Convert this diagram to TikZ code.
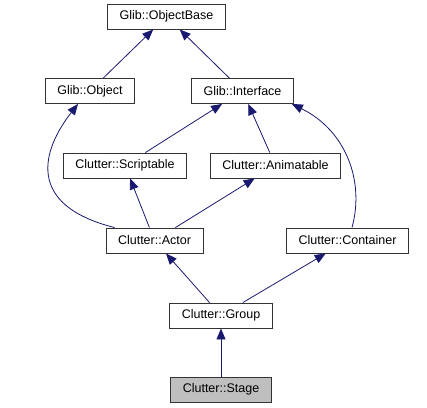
\documentclass[tikz,border=0pt]{standalone}
\usepackage{fontspec}
\setmainfont{Liberation Sans}
\usetikzlibrary{arrows.meta}
\definecolor{edgeblue}{RGB}{25,25,112}
\definecolor{stagegray}{RGB}{191,191,191}

\begin{document}
\begin{tikzpicture}[x=1pt,y=-1pt,
  cls/.style={draw=black!80,fill=white,line width=0.9pt,minimum height=25pt,
    inner xsep=12pt,inner ysep=0pt,font=\fontsize{12.5}{15}\selectfont},
  inh/.style={draw=edgeblue,line width=0.8pt,
    -{Triangle[length=11pt,width=9pt,fill=edgeblue]}}]
\useasboundingbox (0,0) rectangle (427,407);

\node[cls] (objbase) at (166.5,16.5) {Glib::ObjectBase};
\node[cls] (object) at (90,91) {Glib::Object};
\node[cls] (interface) at (242.5,91) {Glib::Interface};
\node[cls] (scriptable) at (125,165.5) {Clutter::Scriptable};
\node[cls] (animatable) at (275.5,165.5) {Clutter::Animatable};
\node[cls] (actor) at (154.5,240.5) {Clutter::Actor};
\node[cls] (container) at (347.5,240.5) {Clutter::Container};
\node[cls] (group) at (221,315.5) {Clutter::Group};
\node[cls,fill=stagegray] (stage) at (221,389.5) {Clutter::Stage};

\draw[inh] (object) -- (objbase);
\draw[inh] (interface) -- (objbase);
\draw[inh] (scriptable) -- (interface);
\draw[inh] (animatable) -- (interface);
\draw[inh] (actor) -- (scriptable);
\draw[inh] (actor) -- (animatable);
\draw[inh] ([xshift=9pt]actor.north west) .. controls (25,205) and (42,150) .. ([xshift=-12pt]object.south);
\draw[inh] ([xshift=4.5pt]container.north) .. controls (365,180) and (345,130) .. ([xshift=-2pt]interface.south east);
\draw[inh] (group) -- (actor);
\draw[inh] (group) -- (container);
\draw[inh] (stage) -- (group);
\end{tikzpicture}
\end{document}
